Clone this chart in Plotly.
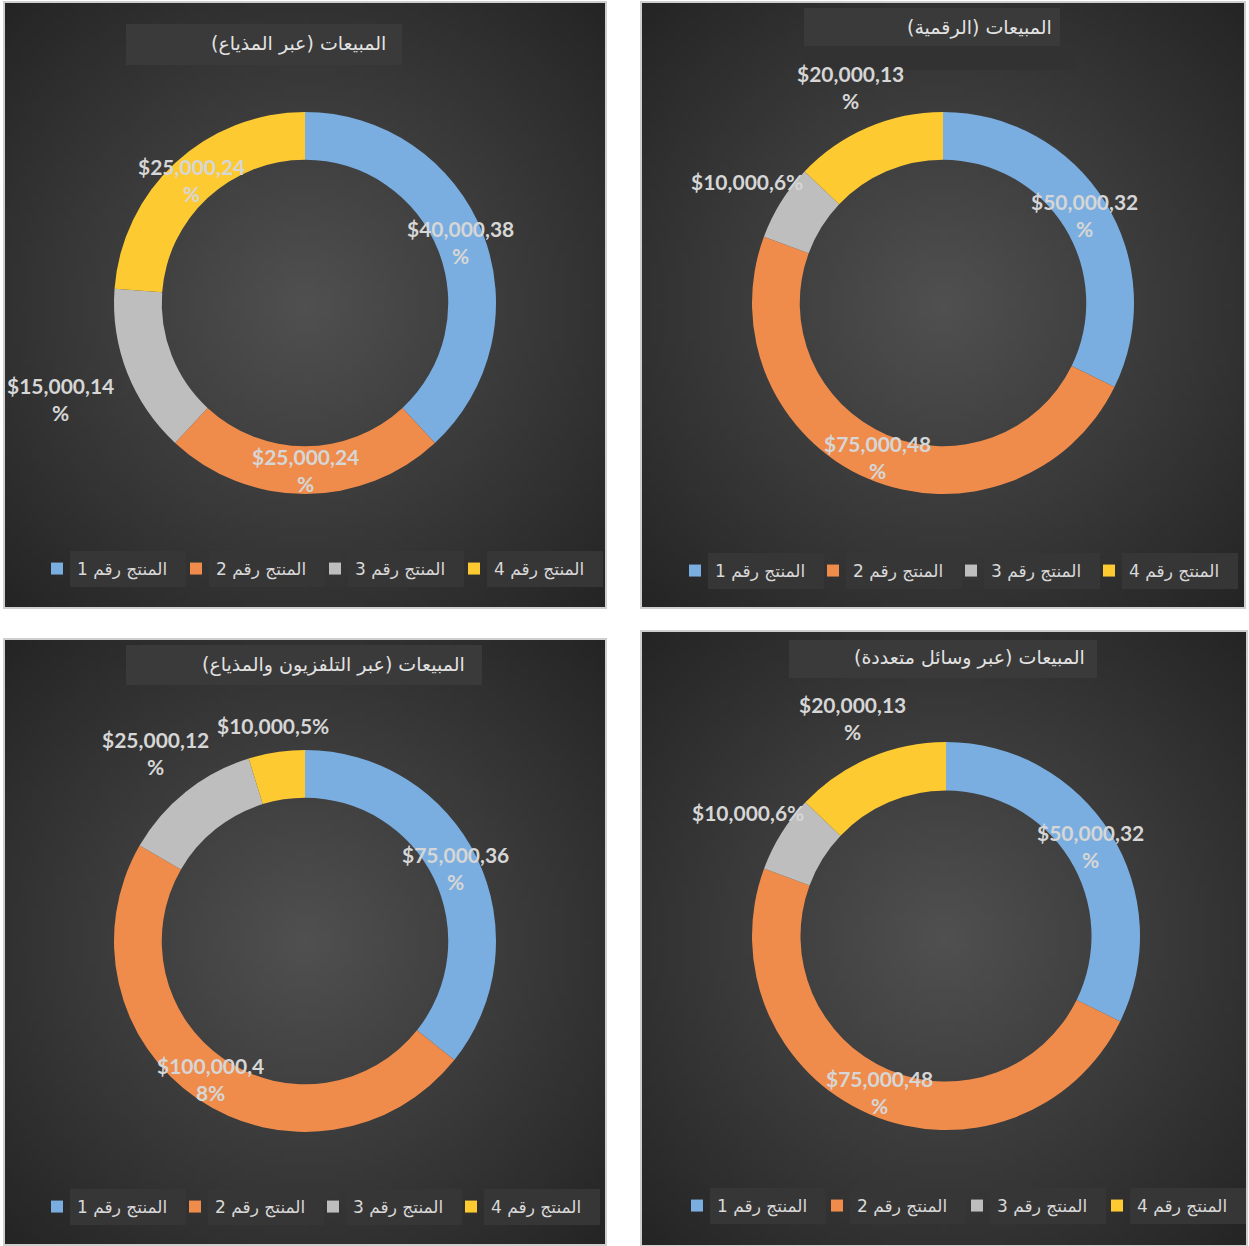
import zlib, struct, base64, math
import plotly.graph_objects as go

# ---------------- data ----------------
products = ["المنتج رقم 1", "المنتج رقم 2", "المنتج رقم 3", "المنتج رقم 4"]
titles = [
    "المبيعات (عبر المذياع)",
    "المبيعات (الرقمية)",
    "المبيعات (عبر التلفزيون والمذياع)",
    "المبيعات (عبر وسائل متعددة)",
]
sales_radio = [40000, 25000, 15000, 25000]
sales_digital = [50000, 75000, 10000, 20000]
sales_tv_radio = [75000, 100000, 25000, 10000]
sales_multi = [50000, 75000, 10000, 20000]
series = [sales_radio, sales_digital, sales_tv_radio, sales_multi]

colors = ["#7aaee0", "#ef8c4c", "#bebebe", "#fdca32"]

# ---------------- layout geometry (pixels) ----------------
W, H = 1249, 1246
panels = [
    dict(x0=4, y0=2, x1=606, y1=608, cx=305, cy=303, r=191, tx=298, ty=43,
         boxes=[(126, 24, 402, 65, "#3a3a3a")], ly=569, sq=57, lstep=139),
    dict(x0=641, y0=2, x1=1245, y1=608, cx=943, cy=303, r=191, tx=979, ty=27,
         boxes=[(804, 8, 1060, 46, "#3a3a3a"), (804, 46, 1075, 70, "#323232")],
         ly=571, sq=695, lstep=138),
    dict(x0=4, y0=639, x1=606, y1=1245, cx=305, cy=941, r=191, tx=334, ty=664,
         boxes=[(126, 645, 482, 685, "#3a3a3a")], ly=1207, sq=57, lstep=138),
    dict(x0=641, y0=631, x1=1247, y1=1246, cx=946, cy=936, r=194, tx=970, ty=657,
         boxes=[(789, 640, 1097, 678, "#3a3a3a")], ly=1206, sq=697, lstep=140),
]
HOLE = 0.75
ITEMW = 30  # legend symbol area width


def px(x):
    return x / W


def py(y):
    return 1 - y / H


def radial_png(n=96, c_in=(0x50, 0x50, 0x50), c_out=(0x24, 0x24, 0x24)):
    rows = []
    for j in range(n):
        row = bytearray([0])
        for i in range(n):
            dx = (i + 0.5) / n - 0.5
            dy = (j + 0.5) / n - 0.5
            d = min(1.0, (dx * dx + dy * dy) ** 0.5 / 0.7071)
            for a, b in zip(c_in, c_out):
                row.append(int(round(a + (b - a) * d)))
        rows.append(bytes(row))
    raw = b"".join(rows)

    def chunk(t, data):
        c = struct.pack(">I", len(data)) + t + data
        return c + struct.pack(">I", zlib.crc32(t + data) & 0xFFFFFFFF)

    png = (b"\x89PNG\r\n\x1a\n"
           + chunk(b"IHDR", struct.pack(">IIBBBBB", n, n, 8, 2, 0, 0, 0))
           + chunk(b"IDAT", zlib.compress(raw))
           + chunk(b"IEND", b""))
    return "data:image/png;base64," + base64.b64encode(png).decode()


bg_src = radial_png()
RLM = "\u200f"
ZWSP = "\u200b"

fig = go.Figure()
images, shapes, annotations = [], [], []
legend_keys = ["legend", "legend2", "legend3", "legend4"]
legend_layouts = {}

for k, (p, vals, title) in enumerate(zip(panels, series, titles)):
    cx, cy, r = p["cx"], p["cy"], p["r"]
    # zero-width suffix keeps each chart's legend entries separate (pie legends merge by label)
    labels_k = [lab + ZWSP * k for lab in products]
    fig.add_trace(go.Pie(
        labels=labels_k, values=vals, hole=HOLE, sort=False,
        direction="clockwise", rotation=0,
        marker=dict(colors=colors, line=dict(width=0)),
        textinfo="none", hoverinfo="label+value+percent",
        domain=dict(x=[px(cx - r), px(cx + r)], y=[py(cy + r), py(cy - r)]),
        legend=legend_keys[k], showlegend=True,
    ))
    # panel background
    images.append(dict(source=bg_src, xref="paper", yref="paper",
                       x=px(p["x0"]), y=py(p["y0"]),
                       sizex=px(p["x1"]) - px(p["x0"]), sizey=py(p["y0"]) - py(p["y1"]),
                       xanchor="left", yanchor="top", sizing="stretch", layer="below"))
    shapes.append(dict(type="rect", xref="paper", yref="paper",
                       x0=px(p["x0"]), x1=px(p["x1"]), y0=py(p["y1"]), y1=py(p["y0"]),
                       line=dict(color="#cfcfcf", width=2), fillcolor="rgba(0,0,0,0)", layer="above"))
    for (bx0, by0, bx1, by1, bc) in p["boxes"]:
        shapes.append(dict(type="rect", xref="paper", yref="paper",
                           x0=px(bx0), x1=px(bx1), y0=py(by1), y1=py(by0),
                           line=dict(width=0), fillcolor=bc, layer="below"))
    lx = p["sq"] - (5 + ITEMW / 2)
    # legend text backing boxes
    for i in range(len(products)):
        bx0 = p["sq"] + i * p["lstep"] + 13
        shapes.append(dict(type="rect", xref="paper", yref="paper",
                           x0=px(bx0), x1=px(bx0 + 116), y0=py(p["ly"] + 18), y1=py(p["ly"] - 18),
                           line=dict(width=0), fillcolor="#363636", layer="below"))
    annotations.append(dict(text=RLM + title + RLM, x=px(p["tx"]), y=py(p["ty"]),
                            xref="paper", yref="paper", showarrow=False,
                            xanchor="center", yanchor="middle",
                            font=dict(family="DejaVu Sans", size=19, color="#e2e2e2")))
    # data labels
    total = sum(vals)
    cum = 0
    r_in = r * HOLE
    for v in vals:
        frac = v / total
        mid = (cum + frac / 2) * 2 * math.pi
        cum += frac
        s = f"${v:,},{round(frac * 100)}%"
        lines = [s] if len(s) <= 10 else [s[:10], s[10:]]
        text = "<br>".join(lines)
        ux, uy = math.sin(mid), -math.cos(mid)
        if frac >= 0.2:
            rr = (r + r_in) / 2
        else:
            w = 11.2 * max(len(l) for l in lines)
            h = 29 * len(lines)
            t = min((w / 2) / max(abs(ux), 1e-6), (h / 2) / max(abs(uy), 1e-6))
            rr = r + 12 + t
        lxp = cx + rr * ux
        lyp = cy + rr * uy
        annotations.append(dict(text=text, x=px(lxp), y=py(lyp), xref="paper", yref="paper",
                                showarrow=False, xanchor="center", yanchor="middle",
                                font=dict(family="Lato", size=21, color="#d6d6d6", weight="bold")))
    legend_layouts[legend_keys[k]] = dict(
        orientation="h", x=px(lx), y=py(p["ly"]), xanchor="left", yanchor="middle",
        bgcolor="rgba(0,0,0,0)", font=dict(family="DejaVu Sans", size=17, color="#d9d9d9"),
        entrywidth=p["lstep"] - ITEMW - 15, entrywidthmode="pixels", itemwidth=ITEMW,
        traceorder="normal",
    )

fig.update_layout(
    width=W, height=H, margin=dict(l=0, r=0, t=0, b=0),
    paper_bgcolor="white", plot_bgcolor="white",
    images=images, shapes=shapes, annotations=annotations,
    **legend_layouts,
)
fig.write_html("out.html")
